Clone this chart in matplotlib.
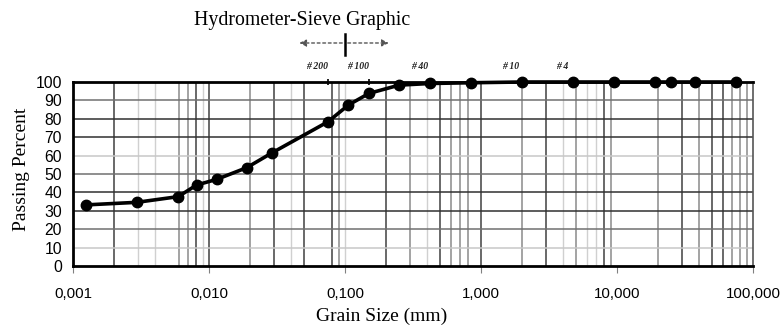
import matplotlib
matplotlib.use("Agg")
import matplotlib.pyplot as plt
from matplotlib.ticker import FixedLocator, NullLocator

# ---- data ----
grain_size_mm = [0.00124, 0.00294, 0.00594, 0.0081, 0.0114, 0.0189, 0.0289,
                 0.075, 0.106, 0.15, 0.25, 0.425, 0.85, 2.0, 4.75, 9.5,
                 19.0, 25.0, 37.5, 75.0]
passing_percent = [33.2, 34.6, 37.7, 44.0, 47.1, 53.4, 61.4,
                   78.4, 87.5, 93.8, 98.3, 99.2, 99.6, 100, 100, 100,
                   100, 100, 100, 100]
sieve_names = ["# 200", "# 100", "# 40", "# 10", "# 4"]
sieve_sizes = [0.075, 0.15, 0.425, 2.0, 4.75]
x_tick_values = [0.001, 0.01, 0.1, 1, 10, 100]
x_tick_labels = ["0,001", "0,010", "0,100", "1,000", "10,000", "100,000"]
y_tick_values = list(range(0, 101, 10))

# grid lines (scanned-paper look)
grid_dark = [0.002, 0.008, 0.01, 0.03, 0.05, 0.08, 0.2, 0.5, 1.0, 3.0, 8.0, 30, 50, 60]
grid_mid = [0.006, 0.007, 0.02, 0.09, 0.3, 0.6, 0.7, 0.8, 2.0, 5.0, 9.0, 20, 40, 70, 80, 90]
grid_light = [0.003, 0.004, 0.009, 0.04, 0.1, 0.4, 4.0, 6.0, 7.0]
hgrid_dark = [30, 40, 70, 80]
hgrid_mid = [20, 50, 90]
hgrid_light = [10, 60]

serif = ["Liberation Serif", "DejaVu Serif"]
sans = ["Liberation Sans", "DejaVu Sans"]

fig = plt.figure(figsize=(7.83, 3.25), dpi=100)
ax = fig.add_axes([73/783, 1-266/325, 680/783, 184/325])
ax.set_xscale("log")
ax.set_xlim(0.001, 100)
ax.set_ylim(0, 100)

for v in grid_light:
    ax.axvline(v, color="#d0d0d0", lw=1.0, zorder=1)
for v in grid_mid:
    ax.axvline(v, color="#8a8a8a", lw=1.1, zorder=1)
for v in grid_dark:
    ax.axvline(v, color="#404040", lw=1.1, zorder=1)
for v in hgrid_light:
    ax.axhline(v, color="#c8c8c8", lw=1.1, zorder=1)
for v in hgrid_mid:
    ax.axhline(v, color="#707070", lw=1.1, zorder=1)
for v in hgrid_dark:
    ax.axhline(v, color="#303030", lw=1.1, zorder=1)

ax.plot(grain_size_mm, passing_percent, color="black", lw=2.6, marker="o",
        markersize=7.5, zorder=5, clip_on=False)

ax.xaxis.set_major_locator(FixedLocator(x_tick_values))
ax.xaxis.set_minor_locator(NullLocator())
ax.set_xticklabels(x_tick_labels, fontfamily=sans, fontsize=10.8)
ax.set_yticks(y_tick_values)
ax.set_yticklabels([str(v) for v in y_tick_values], fontfamily=sans, fontsize=11.3)
ax.tick_params(axis="x", direction="out", length=5, width=0.8, color="#808080", pad=10)
ax.tick_params(axis="y", length=0, pad=8)

for side in ["left", "bottom", "top"]:
    ax.spines[side].set_linewidth(2.0)
    ax.spines[side].set_color("black")
ax.spines["right"].set_linewidth(1.2)
ax.spines["right"].set_color("#555555")

fig.text(382/783, 1-316/325, "Grain Size (mm)", ha="center", va="center",
         fontfamily=serif, fontsize=14)
fig.text(22/783, 1-169/325, "Passing Percent", ha="center", va="center",
         rotation=90, fontfamily=serif, fontsize=14)

# sieve labels above the axes
for name, size in zip(sieve_names, sieve_sizes):
    ax.annotate(name, xy=(size, 1.0), xycoords=("data", "axes fraction"),
                xytext=(-8, 8), textcoords="offset points", ha="center", va="bottom",
                fontfamily=serif, fontsize=7, fontstyle="italic", fontweight="bold",
                color="#222222")
for size in sieve_sizes[:2]:
    ax.plot([size], [100], marker="|", color="black", markersize=4,
            markeredgewidth=1.2, clip_on=False, zorder=6)

# title and hydrometer/sieve arrow
fig.text(302/783, 1-20/325, "Hydrometer-Sieve Graphic", ha="center", va="center",
         fontfamily=serif, fontsize=14.3)
ax.annotate("", xy=(0.044, 1.212), xytext=(0.1, 1.212),
            xycoords=("data", "axes fraction"), textcoords=("data", "axes fraction"),
            arrowprops=dict(arrowstyle="-|>", linestyle=(0, (2, 2)), color="#555555",
                            lw=1.0, mutation_scale=10), annotation_clip=False)
ax.annotate("", xy=(0.22, 1.212), xytext=(0.1, 1.212),
            xycoords=("data", "axes fraction"), textcoords=("data", "axes fraction"),
            arrowprops=dict(arrowstyle="-|>", linestyle=(0, (2, 2)), color="#555555",
                            lw=1.0, mutation_scale=10), annotation_clip=False)
ax.plot([0.1, 0.1], [1.147, 1.26], color="black", lw=1.8,
        transform=ax.get_xaxis_transform(), clip_on=False)

fig.savefig("out.png", dpi=100)
